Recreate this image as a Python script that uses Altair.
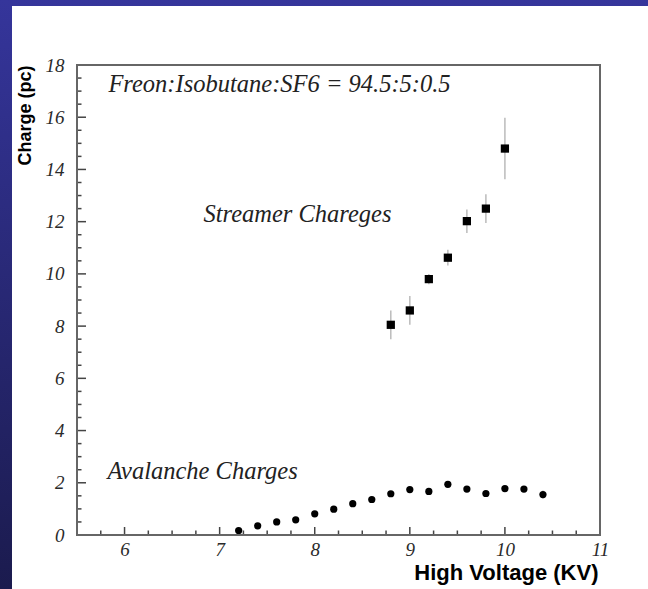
import altair as alt
import pandas as pd

# ---------------- data ----------------
streamer_hv = [8.8, 9.0, 9.2, 9.4, 9.6, 9.8, 10.0]
streamer_q = [8.05, 8.6, 9.8, 10.62, 12.02, 12.5, 14.8]
streamer_err = [0.55, 0.55, 0.2, 0.3, 0.45, 0.55, 1.18]

avalanche_hv = [7.2, 7.4, 7.6, 7.8, 8.0, 8.2, 8.4, 8.6, 8.8,
                9.0, 9.2, 9.4, 9.6, 9.8, 10.0, 10.2, 10.4]
avalanche_q = [0.17, 0.35, 0.5, 0.58, 0.81, 0.99, 1.2, 1.36, 1.58,
               1.74, 1.67, 1.94, 1.76, 1.59, 1.78, 1.76, 1.55]
avalanche_err = [0.12, 0.05, 0.05, 0.05, 0.05, 0.05, 0.05, 0.05, 0.05,
                 0.05, 0.05, 0.05, 0.05, 0.05, 0.05, 0.05, 0.15]

x_major = [6, 7, 8, 9, 10, 11]
x_minor = [5.75, 6.25, 6.5, 6.75, 7.25, 7.5, 7.75, 8.25, 8.5, 8.75,
           9.25, 9.5, 9.75, 10.25, 10.5, 10.75]
y_major = [0, 2, 4, 6, 8, 10, 12, 14, 16, 18]
y_minor = [0.5, 1, 1.5, 2.5, 3, 3.5, 4.5, 5, 5.5, 6.5, 7, 7.5, 8.5, 9, 9.5,
           10.5, 11, 11.5, 12.5, 13, 13.5, 14.5, 15, 15.5, 16.5, 17, 17.5]

note_text = ["Freon:Isobutane:SF6 = 94.5:5:0.5", "Streamer Chareges", "Avalanche Charges"]
note_x = [5.83, 6.83, 5.82]
note_y = [16.95, 11.97, 2.16]

x_title = "High Voltage (KV)"
y_title = "Charge (pc)"

# ---------------- tables ----------------
streamer = pd.DataFrame({"hv": streamer_hv, "q": streamer_q})
avalanche = pd.DataFrame({"hv": avalanche_hv, "q": avalanche_q})
errs = pd.DataFrame({
    "hv": streamer_hv + avalanche_hv,
    "lo": [q - e for q, e in zip(streamer_q, streamer_err)] + [q - e for q, e in zip(avalanche_q, avalanche_err)],
    "hi": [q + e for q, e in zip(streamer_q, streamer_err)] + [q + e for q, e in zip(avalanche_q, avalanche_err)],
})
notes = pd.DataFrame({"t": note_text, "x": note_x, "y": note_y})
xmaj = pd.DataFrame({"v": x_major})
xmin = pd.DataFrame({"v": x_minor})
ymaj = pd.DataFrame({"v": y_major})
ymin = pd.DataFrame({"v": y_minor})
one = pd.DataFrame({"a": [0]})

W, H = 523, 470
PL, PT, PR, PB = 77, 65, 48, 54

xs = alt.Scale(domain=[5.5, 11], nice=False, zero=False)
ys = alt.Scale(domain=[0, 18], nice=False, zero=False)

SERIF = "Liberation Serif"
SANS = "Liberation Sans"
TICKC = "#444444"

AX = alt.Axis(
    orient="bottom", values=x_major, ticks=False, domain=False, grid=False,
    labelFont=SERIF, labelFontStyle="italic", labelFontSize=19, labelColor="#2a2a2a",
    labelPadding=5, labelFlush=False, labelOverlap=False,
    title=x_title, titleFont=SANS, titleFontWeight="bold", titleFontSize=22,
    titleColor="black", titleAnchor="end", titleAlign="right", titleBaseline="alphabetic",
    titleX=W - 2, titleY=44, zindex=2)
AY = alt.Axis(
    orient="left", values=y_major, ticks=False, domain=False, grid=False,
    labelFont=SERIF, labelFontStyle="italic", labelFontSize=19, labelColor="#2a2a2a",
    labelPadding=13, labelFlush=False, labelOverlap=False,
    title=y_title, titleFont=SANS, titleFontWeight="bold", titleFontSize=18,
    titleColor="black", titleAngle=270, titleAlign="right", titleBaseline="middle",
    titleX=-52, titleY=0, zindex=2)

def X(field):
    return alt.X(field, scale=xs, axis=AX, title=x_title)

def Y(field):
    return alt.Y(field, scale=ys, axis=AY, title=y_title)

# ---------------- decoration ----------------
grad = alt.Gradient(
    gradient="linear",
    stops=[alt.GradientStop(color="#35359b", offset=0),
           alt.GradientStop(color="#1b1b4e", offset=1)],
    x1=0, x2=0, y1=0, y2=1,
)
bg = alt.Chart(one).mark_rect(fill=grad, strokeWidth=0).encode(
    x=alt.value(-PL), x2=alt.value(W + PR), y=alt.value(-PT), y2=alt.value(H + PB)
)
panel = alt.Chart(one).mark_rect(fill="white", strokeWidth=0).encode(
    x=alt.value(-PL + 12), x2=alt.value(W + PR), y=alt.value(-PT + 6), y2=alt.value(H + PB)
)
frame = alt.Chart(one).mark_rect(fill="white", fillOpacity=0, stroke="#666666", strokeWidth=2).encode(
    x=alt.value(0), x2=alt.value(W), y=alt.value(0), y2=alt.value(H)
)

# ---------------- inward ticks ----------------
def xticks(df, length):
    return alt.Chart(df).mark_rule(color=TICKC, strokeWidth=1.5).encode(
        x=X("v:Q"),
        y=alt.value(H), y2=alt.value(H - length),
    )

def yticks(df, length):
    return alt.Chart(df).mark_rule(color=TICKC, strokeWidth=1.5).encode(
        y=Y("v:Q"),
        x=alt.value(0), x2=alt.value(length),
    )

# ---------------- data marks ----------------
rules = alt.Chart(errs).mark_rule(color="#bbbbbb", strokeWidth=1.5, clip=True).encode(
    x=X("hv:Q"), y=Y("lo:Q"), y2="hi:Q",
)
squares = alt.Chart(streamer).mark_square(size=68, color="black", opacity=1).encode(
    x=X("hv:Q"), y=Y("q:Q"),
)
circles = alt.Chart(avalanche).mark_circle(size=52, color="black", opacity=1).encode(
    x=X("hv:Q"), y=Y("q:Q"),
)
texts = alt.Chart(notes).mark_text(
    align="left", baseline="alphabetic", font=SERIF, fontStyle="italic",
    fontSize=24.5, color="#222222"
).encode(
    x=X("x:Q"), y=Y("y:Q"), text="t:N",
)

chart = alt.layer(
    bg, panel, rules, squares, circles, texts,
    xticks(xmaj, 8), xticks(xmin, 4.5), yticks(ymaj, 9), yticks(ymin, 4.5),
    frame,
).properties(
    width=W, height=H,
    autosize=alt.AutoSizeParams(type="none"),
    padding={"left": PL, "top": PT, "right": PR, "bottom": PB},
    background="#2a2a80",
).configure_view(stroke=None)

chart.save("out.html", embed_options={"renderer": "svg", "actions": False})
